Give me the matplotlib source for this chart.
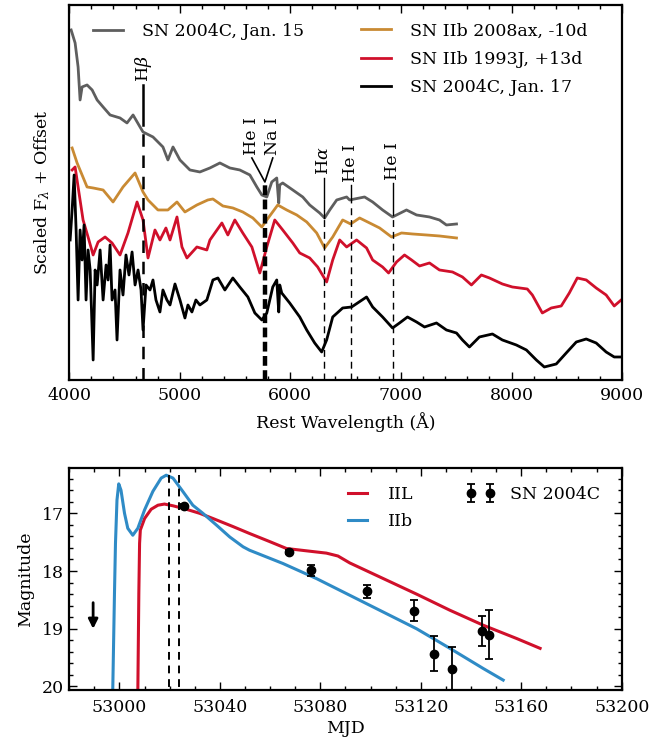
import matplotlib
matplotlib.use("Agg")
import matplotlib.pyplot as plt
from matplotlib.ticker import MultipleLocator, NullLocator

plt.rcParams['font.family'] = ['DejaVu Serif']
plt.rcParams['mathtext.fontset'] = 'dejavuserif'
plt.rcParams['font.size'] = 12.5

# ------------------------
# spectra (rest wavelength in A, scaled flux + offset)
# ------------------------
wave_jan15 = [4018, 4054, 4081, 4099, 4117, 4162, 4208, 4253, 4307, 4370, 4460, 4523,
              4578, 4641, 4668, 4758, 4848, 4893, 4939, 5002, 5092, 5182, 5273, 5363,
              5453, 5543, 5634, 5697, 5742, 5787, 5832, 5877, 5895, 5904, 5931, 6022,
              6112, 6175, 6265, 6310, 6356, 6419, 6509, 6536, 6671, 6744, 6834, 6924,
              7050, 7141, 7258, 7348, 7411, 7502]
flux_jan15 = [35.0, 33.7, 31.3, 28.0, 29.3, 29.5, 29.0, 28.0, 27.3, 26.5, 26.2, 25.7,
              26.5, 25.3, 24.8, 24.3, 23.3, 22.0, 23.3, 22.0, 21.0, 20.8, 21.2, 21.7,
              21.2, 21.0, 20.5, 19.3, 18.5, 18.3, 19.8, 20.2, 17.7, 19.5, 19.7, 19.0,
              18.3, 17.5, 16.7, 16.2, 17.0, 18.0, 18.3, 18.0, 18.3, 17.8, 17.0, 16.3,
              17.0, 16.5, 16.3, 16.0, 15.5, 15.6]

wave_08ax = [4027, 4072, 4162, 4217, 4307, 4397, 4487, 4596, 4668, 4713, 4803, 4893,
             4975, 5047, 5155, 5254, 5300, 5390, 5480, 5570, 5661, 5742, 5787, 5886,
             5967, 6058, 6148, 6238, 6310, 6383, 6473, 6545, 6626, 6717, 6807, 6915,
             7005, 7105, 7231, 7348, 7502]
flux_08ax = [23.2, 21.7, 19.3, 19.2, 19.0, 17.8, 19.3, 20.7, 18.8, 18.0, 17.0, 17.0,
             17.8, 16.8, 17.5, 18.0, 18.1, 17.4, 17.2, 16.8, 16.2, 15.3, 16.0, 17.5,
             17.0, 16.5, 15.8, 14.7, 13.2, 14.3, 16.0, 15.6, 16.2, 15.7, 15.2, 14.3,
             14.7, 14.6, 14.5, 14.4, 14.2]

wave_93j = [4027, 4054, 4081, 4126, 4171, 4217, 4262, 4325, 4388, 4460, 4532, 4614,
            4668, 4713, 4776, 4821, 4875, 4912, 4975, 5020, 5065, 5155, 5245, 5273,
            5381, 5435, 5498, 5570, 5652, 5724, 5787, 5859, 5931, 6022, 6085, 6175,
            6247, 6328, 6383, 6446, 6509, 6599, 6689, 6744, 6834, 6888, 6960, 7032,
            7096, 7168, 7258, 7348, 7466, 7556, 7637, 7727, 7800, 7917, 8007, 8142,
            8188, 8278, 8359, 8449, 8522, 8594, 8675, 8765, 8855, 8928, 8991]
flux_93j = [21.0, 21.3, 19.3, 16.0, 14.3, 12.5, 13.8, 14.3, 13.7, 12.5, 14.7, 17.8,
            16.0, 12.2, 15.0, 14.0, 15.2, 14.0, 16.3, 13.3, 12.2, 13.3, 13.0, 14.0,
            15.7, 14.5, 16.0, 14.7, 13.3, 10.7, 13.3, 16.0, 15.0, 13.7, 12.7, 12.2,
            11.3, 9.8, 12.0, 14.0, 13.3, 14.0, 13.2, 12.0, 11.3, 10.7, 11.8, 12.5,
            12.0, 11.4, 11.7, 11.0, 10.8, 10.3, 9.5, 10.5, 10.2, 9.6, 9.3, 9.1,
            8.5, 6.7, 7.2, 7.4, 8.7, 10.2, 10.0, 9.2, 8.5, 7.4, 8.0]

wave_jan17 = [4009, 4027, 4045, 4063, 4081, 4099, 4117, 4135, 4153, 4171, 4190, 4217,
              4235, 4253, 4280, 4307, 4334, 4352, 4370, 4388, 4415, 4433, 4460, 4487,
              4514, 4541, 4569, 4596, 4623, 4650, 4668, 4695, 4731, 4758, 4785, 4821,
              4848, 4884, 4912, 4957, 5002, 5047, 5074, 5110, 5146, 5182, 5245, 5300,
              5345, 5408, 5480, 5543, 5616, 5679, 5742, 5787, 5841, 5877, 5895, 5904,
              5922, 5994, 6085, 6148, 6220, 6283, 6328, 6383, 6473, 6554, 6608, 6689,
              6744, 6834, 6924, 6987, 7059, 7141, 7213, 7321, 7411, 7502, 7556, 7619,
              7709, 7827, 7917, 8043, 8134, 8224, 8296, 8404, 8494, 8585, 8675, 8765,
              8855, 8928, 8991]
flux_jan17 = [14.0, 17.0, 20.5, 15.0, 8.0, 15.0, 12.0, 15.5, 8.0, 13.0, 11.0, 2.0,
              11.0, 9.5, 13.0, 8.0, 11.5, 10.0, 13.5, 8.0, 9.0, 4.0, 11.0, 8.5,
              12.5, 10.5, 12.8, 9.5, 11.0, 9.0, 5.0, 9.5, 9.0, 10.0, 8.0, 6.8,
              9.0, 8.0, 7.5, 9.6, 8.0, 6.2, 7.5, 6.8, 8.0, 7.5, 8.0, 10.0,
              10.2, 9.0, 10.2, 9.3, 8.3, 6.7, 6.0, 6.7, 9.3, 10.0, 6.8, 9.5,
              8.7, 7.7, 6.3, 5.0, 3.7, 2.8, 4.0, 6.3, 7.2, 7.3, 7.7, 8.3,
              7.3, 6.3, 5.2, 5.7, 6.3, 5.8, 5.3, 5.7, 5.0, 4.7, 4.0, 3.3,
              4.3, 4.6, 4.0, 3.5, 3.0, 2.0, 1.3, 1.6, 2.7, 3.8, 4.1, 3.7,
              2.8, 2.3, 2.3]

# line identifications: label, wavelength, top of solid part, top of dashed part
line_ids = ["H$\\beta$", "H$\\alpha$", "He I", "He I"]
line_waves = [4668, 6300, 6545, 6925]
line_solid_top = [29.5, 20.2, 19.5, 19.7]
line_dash_top = [25.5, 16.2, 18.0, 16.5]
naid_wave = 5770

# ------------------------
# light curves
# ------------------------
iil_mjd = [53007.3, 53007.7, 53008.0, 53008.3, 53010.0, 53012.6, 53015.3, 53017.9, 53021.3,
           53026.6, 53031.9, 53037.2, 53045.2, 53051.8, 53059.8, 53066.5, 53074.4, 53082.4,
           53087.0, 53091.7, 53105.0, 53118.3, 53131.6, 53144.9, 53158.2, 53167.5]
iil_mag = [20.10, 18.39, 17.52, 17.29, 17.09, 16.93, 16.86, 16.84, 16.87,
           16.93, 17.00, 17.09, 17.23, 17.35, 17.49, 17.61, 17.65, 17.69,
           17.74, 17.86, 18.13, 18.40, 18.68, 18.94, 19.17, 19.34]

iib_mjd = [52997.3, 52998.0, 52998.4, 52999.0, 52999.7, 53000.6, 53002.0, 53003.3, 53005.3,
           53007.3, 53010.0, 53013.3, 53016.6, 53018.6, 53021.3, 53025.2, 53029.2, 53033.2,
           53038.5, 53043.9, 53049.2, 53051.8, 53065.1, 53078.4, 53091.7, 53105.0, 53118.3,
           53131.6, 53144.9, 53152.8]
iib_mag = [20.10, 18.39, 17.52, 16.77, 16.49, 16.60, 17.00, 17.26, 17.38,
           17.26, 16.94, 16.62, 16.39, 16.34, 16.39, 16.62, 16.86, 17.00,
           17.20, 17.41, 17.58, 17.64, 17.87, 18.13, 18.42, 18.71, 19.00,
           19.34, 19.69, 19.89]

obs_mjd = [53025.5, 53067.5, 53076.4, 53098.5, 53117.3, 53125.3, 53132.4, 53144.5, 53147.3]
obs_mag = [16.87, 17.67, 17.99, 18.35, 18.69, 19.43, 19.69, 19.04, 19.10]
obs_err = [0.03, 0.03, 0.09, 0.11, 0.18, 0.31, 0.37, 0.26, 0.43]

limit_mjd = 52989.5
limit_mag = 18.5
spec_dates = [53019.7, 53023.5]

c_gray = '#5e5e5e'
c_orange = '#c98a33'
c_red = '#d0102b'
c_blue = '#2f8bc6'

fig = plt.figure(figsize=(6.68, 7.4), dpi=100)
ax1 = fig.add_axes([0.1035, 0.4865, 0.8279, 0.5068])
ax2 = fig.add_axes([0.1037, 0.0669, 0.8270, 0.3003])

# --- top panel: spectra ---
l1, = ax1.plot(wave_jan15, flux_jan15, color=c_gray, lw=2.0)
l2, = ax1.plot(wave_08ax, flux_08ax, color=c_orange, lw=2.0)
l3, = ax1.plot(wave_93j, flux_93j, color=c_red, lw=2.0)
l4, = ax1.plot(wave_jan17, flux_jan17, color='black', lw=2.0)

for name, w, top, dtop in zip(line_ids, line_waves, line_solid_top, line_dash_top):
    lw = 1.8 if name == "H$\\beta$" else 1.0
    ax1.plot([w, w], [dtop, top], color='black', lw=lw)
    ax1.plot([w, w], [0, dtop], color='black', lw=lw, dashes=(5, 3.5))
    ax1.text(w, top + 0.3, name, rotation=90, ha='center', va='bottom')

# He I / Na I blend marker
ax1.plot([naid_wave, naid_wave], [0, 19.8], color='black', lw=3.2, dashes=(2.2, 1.0))
ax1.plot([5652, naid_wave, 5841], [22.2, 19.8, 22.2], color='black', lw=1.2)
ax1.text(5652, 22.5, "He I", rotation=90, ha='center', va='bottom')
ax1.text(5841, 22.5, "Na I", rotation=90, ha='center', va='bottom')

ax1.set_xlim(4000, 9000)
ax1.set_ylim(0, 37.5)
ax1.xaxis.set_major_locator(MultipleLocator(1000))
ax1.xaxis.set_minor_locator(MultipleLocator(200))
ax1.yaxis.set_major_locator(NullLocator())
ax1.tick_params(axis='x', which='both', direction='in', top=True, pad=5)
ax1.tick_params(axis='x', which='major', length=6, width=1)
ax1.tick_params(axis='x', which='minor', length=3, width=1)
ax1.set_xlabel("Rest Wavelength (Å)", labelpad=6)
ax1.set_ylabel("Scaled F$_\\lambda$ + Offset", labelpad=12)

leg_a = ax1.legend([l1], ["SN 2004C, Jan. 15"], loc='upper left',
                   bbox_to_anchor=(0.015, 0.993), frameon=False,
                   handlelength=1.7, handletextpad=1.1)
ax1.add_artist(leg_a)
ax1.legend([l2, l3, l4], ["SN IIb 2008ax, -10d", "SN IIb 1993J, +13d", "SN 2004C, Jan. 17"],
           loc='upper left', bbox_to_anchor=(0.50, 0.995), frameon=False,
           handlelength=1.7, handletextpad=1.1, labelspacing=0.65)

# --- bottom panel: light curves ---
ax2.plot(iil_mjd, iil_mag, color=c_red, lw=2.2, label="IIL")
ax2.plot(iib_mjd, iib_mag, color=c_blue, lw=2.2, label="IIb")
ax2.errorbar(obs_mjd, obs_mag, yerr=obs_err, fmt='o', color='black', ms=6,
             capsize=3, elinewidth=1.3, capthick=1.3, label="SN 2004C")
ax2.vlines(spec_dates, 16.33, 20.1, colors='black', linestyles=(0, (4, 3)), lw=1.4)
ax2.annotate('', xy=(limit_mjd, 19.05), xytext=(limit_mjd, limit_mag),
             arrowprops=dict(arrowstyle='-|>', lw=2, color='black', mutation_scale=14))

ax2.set_xlim(52980, 53200)
ax2.set_ylim(20.07, 16.22)
ax2.xaxis.set_major_locator(MultipleLocator(40))
ax2.xaxis.set_minor_locator(MultipleLocator(10))
ax2.yaxis.set_major_locator(MultipleLocator(1))
ax2.yaxis.set_minor_locator(MultipleLocator(0.2))
ax2.tick_params(which='both', direction='in', top=True, right=True)
ax2.tick_params(axis='x', which='both', pad=6)
ax2.tick_params(which='major', length=6, width=1)
ax2.tick_params(which='minor', length=3, width=1)
ax2.ticklabel_format(axis='x', useOffset=False, style='plain')
ax2.set_xlabel("MJD", labelpad=3)
ax2.set_ylabel("Magnitude", labelpad=6)
ax2.legend(loc='upper right', ncol=2, numpoints=2, frameon=False,
           handlelength=1.7, handletextpad=0.9, columnspacing=3.0,
           labelspacing=0.55, bbox_to_anchor=(0.99, 0.99))

for ax in (ax1, ax2):
    for sp in ax.spines.values():
        sp.set_linewidth(1.6)

fig.savefig("out.png", dpi=100)
